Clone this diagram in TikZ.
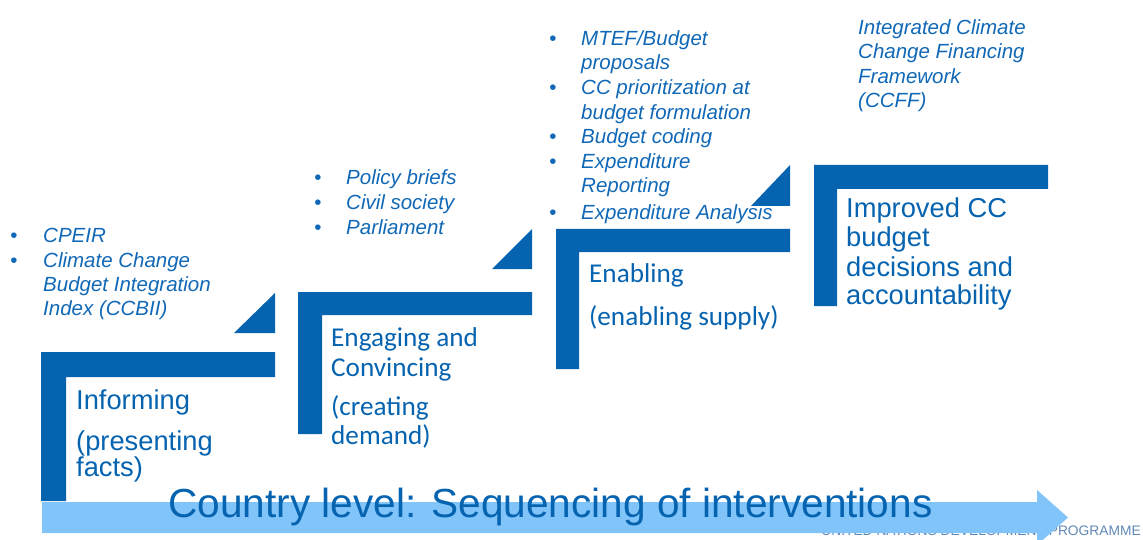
\documentclass[tikz,border=0pt]{standalone}
\usepackage{fontspec}
\setmainfont{Liberation Sans}
\newfontfamily\calibri{Carlito}
\definecolor{stepblue}{RGB}{5,99,176}
\definecolor{itemblue}{RGB}{16,104,182}
\definecolor{arrowblue}{RGB}{128,196,250}
\definecolor{markgrey}{RGB}{96,136,182}
\begin{document}
\begin{tikzpicture}[x=1pt,y=-1pt,
  txt/.style={inner sep=0pt,anchor=base west},
  item/.style={txt,text=itemblue,font=\fontsize{20.5}{24.5}\selectfont\itshape},
  dot/.style={inner sep=0pt,anchor=base,text=itemblue,font=\fontsize{20.5}{24.5}\selectfont},
  bigA/.style={txt,text=stepblue,font=\fontsize{27.3}{30}\selectfont},
  bigC/.style={txt,text=stepblue,font=\fontsize{27.2}{30}\calibri\selectfont},
  stepfill/.style={fill=stepblue,draw=none}]
\useasboundingbox (0,0) rectangle (1143,540);

% footer line partly hidden under the arrow
\node[inner sep=0pt,anchor=base east,text=markgrey,font=\fontsize{13.8}{16}\selectfont] (footer) at (1141,535) {UNITED NATIONS DEVELOPMENT PROGRAMME};

% long arrow along the bottom
\fill[arrowblue] (42,502) -- (1037,502) -- (1037,490) -- (1068,517.5) -- (1037,545) -- (1037,533) -- (42,533) -- cycle;
\node[txt,text=stepblue,font=\fontsize{40.6}{44}\selectfont] (title) at (168,517) {Country level: Sequencing of interventions};

% step brackets
\fill[stepfill] (41,352) -- (275,352) -- (275,377) -- (66,377) -- (66,501) -- (41,501) -- cycle;
\fill[stepfill] (298,292) -- (532,292) -- (532,315) -- (322,315) -- (322,434) -- (298,434) -- cycle;
\fill[stepfill] (556,229) -- (790,229) -- (790,252) -- (579,252) -- (579,369) -- (556,369) -- cycle;
\fill[stepfill] (814,165) -- (1048,165) -- (1048,189) -- (837,189) -- (837,306) -- (814,306) -- cycle;

% small corner wedges
\fill[stepfill] (234,333) -- (275,333) -- (275,293) -- cycle;
\fill[stepfill] (492,269) -- (532,269) -- (532,229) -- cycle;
\fill[stepfill] (751,206) -- (790,206) -- (790,165) -- cycle;

% step 1
\node[bigA] (s1a) at (76,409) {Informing};
\node[bigA] (s1b) at (76,450) {(presenting};
\node[bigA] (s1c) at (76,476) {facts)};
\node[dot] (d1a) at (14,242) {\textbullet};
\node[item] (i1a) at (43,242) {CPEIR};
\node[dot] (d1b) at (14,267) {\textbullet};
\node[item] (i1b) at (43,267) {Climate Change};
\node[item] (i1c) at (43,291) {Budget Integration};
\node[item] (i1d) at (43,315) {Index (CCBII)};

% step 2
\node[bigC] (s2a) at (331,346) {Engaging and};
\node[bigC] (s2b) at (331,376) {Convincing};
\node[bigC] (s2c) at (331,415) {(creating};
\node[bigC] (s2d) at (331,444) {demand)};
\node[dot] (d2a) at (318,185) {\textbullet};
\node[item] (i2a) at (346,185) {Policy briefs};
\node[dot] (d2b) at (318,210) {\textbullet};
\node[item] (i2b) at (346,210) {Civil society};
\node[dot] (d2c) at (318,234) {\textbullet};
\node[item] (i2c) at (346,234) {Parliament};

% step 3
\node[bigC] (s3a) at (589,282) {Enabling};
\node[bigC] (s3b) at (589,325) {(enabling supply)};
\node[dot] (d3a) at (553,46) {\textbullet};
\node[item] (i3a) at (581,46) {MTEF/Budget};
\node[item] (i3b) at (581,70) {proposals};
\node[dot] (d3b) at (553,95) {\textbullet};
\node[item] (i3c) at (581,95) {CC prioritization at};
\node[item] (i3d) at (581,120) {budget formulation};
\node[dot] (d3c) at (553,144) {\textbullet};
\node[item] (i3e) at (581,144) {Budget coding};
\node[dot] (d3d) at (553,169) {\textbullet};
\node[item] (i3f) at (581,169) {Expenditure};
\node[item] (i3g) at (581,193) {Reporting};
\node[dot] (d3e) at (553,219) {\textbullet};
\node[item] (i3h) at (581,219) {Expenditure Analysis};

% step 4
\node[bigA] (s4a) at (846,218) {Improved CC};
\node[bigA] (s4b) at (846,247) {budget};
\node[bigA] (s4c) at (846,276) {decisions and};
\node[bigA] (s4d) at (846,304) {accountability};
\node[item] (i4a) at (858,35) {Integrated Climate};
\node[item] (i4b) at (858,59) {Change Financing};
\node[item] (i4c) at (858,84) {Framework};
\node[item] (i4d) at (858,108) {(CCFF)};
\end{tikzpicture}
\end{document}
